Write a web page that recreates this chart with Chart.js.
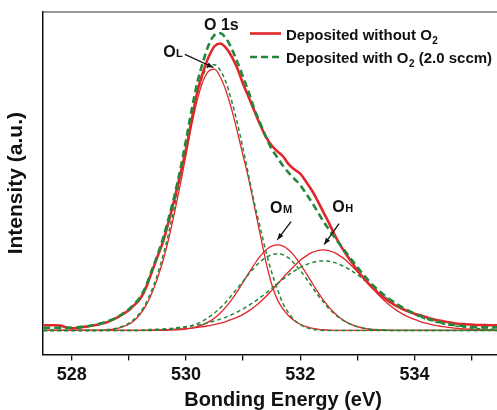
<!DOCTYPE html>
<html>
<head>
<meta charset="utf-8">
<title>O 1s XPS</title>
<script src="https://cdn.jsdelivr.net/npm/chart.js@4.4.0/dist/chart.umd.min.js"></script>
<style>
    html, body { margin: 0; padding: 0; background: #fff; overflow: hidden; }
    #wrap { width: 530px; height: 410px; }
</style>
</head>
<body>
<div id="wrap"><canvas id="xpsChart" width="530" height="410"></canvas></div>
<script>
// Binding energy grid (eV)
const energy = [
    527.5, 527.6, 527.7, 527.8, 527.9, 528.0, 528.1, 528.2, 528.3, 528.4,
    528.5, 528.6, 528.7, 528.8, 528.9, 529.0, 529.1, 529.2, 529.3, 529.4,
    529.5, 529.6, 529.7, 529.8, 529.9, 530.0, 530.1, 530.2, 530.3, 530.4,
    530.5, 530.6, 530.7, 530.8, 530.9, 531.0, 531.1, 531.2, 531.3, 531.4,
    531.5, 531.6, 531.7, 531.8, 531.9, 532.0, 532.1, 532.2, 532.3, 532.4,
    532.5, 532.6, 532.7, 532.8, 532.9, 533.0, 533.1, 533.2, 533.3, 533.4,
    533.5, 533.6, 533.7, 533.8, 533.9, 534.0, 534.1, 534.2, 534.3, 534.4,
    534.5, 534.6, 534.7, 534.8, 534.9, 535.0, 535.1, 535.2, 535.3, 535.4,
    535.5
];

// Measured O 1s envelope, film deposited without O2
const redTotal = [
    1.5, 1.5, 1.5, 1.4, 0.9, 0.6, 0.7, 1.0, 1.2, 1.5,
    1.9, 2.3, 3.0, 3.8, 4.8, 5.9, 7.5, 9.3, 12.5, 17.0,
    21.5, 26.0, 32.0, 38.5, 45.5, 53.0, 61.5, 69.8, 75.5, 80.0,
    83.0, 83.8, 82.5, 80.0, 76.5, 72.0, 68.0, 64.0, 60.0, 56.5,
    54.0, 52.3, 50.8, 48.5, 47.0, 45.8, 43.5, 41.0, 38.0, 34.7,
    31.5, 28.0, 25.0, 22.3, 20.0, 17.5, 15.5, 13.6, 11.9, 10.4,
    9.1, 8.0, 7.0, 6.2, 5.5, 4.9, 4.4, 3.9, 3.4, 3.0,
    2.7, 2.4, 2.1, 1.9, 1.8, 1.7, 1.6, 1.6, 1.5, 1.5,
    1.5
];
// Measured O 1s envelope, film deposited with O2 (2.0 sccm)
const greenTotal = [
    0.8, 0.8, 0.8, 0.8, 0.8, 0.8, 0.9, 1.1, 1.3, 1.6,
    2.0, 2.5, 3.1, 3.9, 5.0, 6.2, 7.8, 9.8, 13.0, 17.5,
    22.0, 27.0, 33.0, 39.5, 47.0, 55.5, 64.5, 72.5, 78.5, 83.5,
    86.3, 86.8, 85.3, 82.3, 78.3, 74.0, 69.5, 64.5, 60.5, 56.5,
    53.0, 50.5, 48.0, 46.0, 44.2, 42.5, 40.0, 37.5, 34.8, 32.0,
    29.5, 27.2, 25.0, 22.8, 20.6, 18.5, 16.4, 14.5, 12.8, 11.3,
    9.9, 8.7, 7.6, 6.6, 5.7, 4.9, 4.2, 3.6, 3.1, 2.6,
    2.2, 1.9, 1.6, 1.4, 1.2, 1.0, 0.9, 0.9, 0.9, 0.9,
    0.9
];

// Fitted components, without O2
const redOL = [
    0, 0, 0, 0, 0, 0, 0, 0, 0, 0,
    0, 0.15, 0.3, 0.6, 1.1, 1.8, 3.0, 4.8, 7.3, 10.8,
    15.2, 20.5, 27.0, 34.5, 42.6, 51.2, 60.0, 67.4, 72.9, 75.8,
    76.3, 74.0, 70.0, 64.5, 58.0, 51.0, 44.0, 36.0, 28.0, 20.0,
    13.5, 9.0, 6.2, 4.2, 2.8, 1.8, 1.1, 0.7, 0.4, 0.2,
    0.1, 0, 0, 0, 0, 0, 0, 0, 0, 0,
    0, 0, 0, 0, 0, 0, 0, 0, 0, 0,
    0, 0, 0, 0, 0, 0, 0, 0, 0, 0,
    0
];
const redOM = [
    0, 0, 0, 0, 0, 0, 0, 0, 0, 0,
    0, 0, 0, 0, 0, 0, 0, 0, 0, 0,
    0, 0, 0.1, 0.15, 0.25, 0.4, 0.7, 1.1, 1.7, 2.5,
    3.6, 5.1, 6.9, 9.0, 11.4, 14.1, 16.8, 19.4, 21.7, 23.5,
    24.6, 25.0, 24.6, 23.5, 21.7, 19.4, 16.8, 14.1, 11.4, 9.0,
    6.9, 5.1, 3.6, 2.5, 1.7, 1.1, 0.7, 0.4, 0.25, 0.15,
    0.1, 0, 0, 0, 0, 0, 0, 0, 0, 0,
    0, 0, 0, 0, 0, 0, 0, 0, 0, 0,
    0
];
const redOH = [
    0, 0, 0, 0, 0, 0, 0, 0, 0, 0,
    0, 0, 0, 0, 0, 0, 0, 0, 0, 0.1,
    0.15, 0.2, 0.25, 0.35, 0.45, 0.55, 0.7, 0.9, 1.1, 1.4,
    1.7, 2.1, 2.6, 3.2, 3.9, 4.7, 5.7, 6.9, 8.3, 9.9,
    11.7, 13.5, 15.4, 17.2, 18.9, 20.5, 21.7, 22.7, 23.3, 23.5,
    23.3, 22.7, 21.7, 20.5, 18.9, 17.2, 15.4, 13.5, 11.7, 9.9,
    8.3, 6.9, 5.7, 4.7, 3.9, 3.2, 2.6, 2.1, 1.7, 1.4,
    1.1, 0.9, 0.7, 0.55, 0.45, 0.35, 0.25, 0.2, 0.15, 0.1,
    0.05
];

// Fitted components, with O2
const greenOL = [
    0, 0, 0, 0, 0, 0, 0, 0, 0, 0,
    0, 0.2, 0.4, 0.7, 1.3, 2.1, 3.4, 5.3, 8.0, 11.7,
    16.3, 22.0, 28.7, 36.4, 44.6, 53.2, 61.8, 69.2, 74.6, 77.3,
    77.6, 76.0, 72.5, 67.0, 60.5, 53.0, 45.0, 37.0, 30.0, 23.0,
    17.0, 12.0, 7.8, 5.0, 3.0, 1.7, 0.9, 0.4, 0.15, 0,
    0, 0, 0, 0, 0, 0, 0, 0, 0, 0,
    0, 0, 0, 0, 0, 0, 0, 0, 0, 0,
    0, 0, 0, 0, 0, 0, 0, 0, 0, 0,
    0
];
const greenOM = [
    0, 0, 0, 0, 0, 0, 0, 0, 0, 0,
    0, 0, 0, 0, 0, 0, 0, 0, 0, 0,
    0.1, 0.2, 0.3, 0.4, 0.65, 1.0, 1.4, 2.0, 2.8, 3.9,
    5.1, 6.6, 8.3, 10.3, 12.3, 14.4, 16.5, 18.4, 20.1, 21.3,
    22.1, 22.4, 22.1, 21.1, 19.5, 17.5, 15.3, 12.9, 10.5, 8.4,
    6.4, 4.8, 3.5, 2.4, 1.7, 1.1, 0.7, 0.45, 0.3, 0.2,
    0.1, 0, 0, 0, 0, 0, 0, 0, 0, 0,
    0, 0, 0, 0, 0, 0, 0, 0, 0, 0,
    0
];
const greenOH = [
    0, 0, 0, 0, 0, 0, 0, 0, 0, 0,
    0, 0, 0, 0, 0, 0, 0, 0, 0.2, 0.3,
    0.35, 0.45, 0.55, 0.7, 0.9, 1.1, 1.3, 1.6, 1.9, 2.3,
    2.8, 3.3, 3.9, 4.6, 5.4, 6.3, 7.3, 8.4, 9.6, 10.9,
    12.3, 13.7, 15.0, 16.3, 17.4, 18.4, 19.2, 19.8, 20.2, 20.3,
    20.2, 19.8, 19.2, 18.4, 17.4, 16.3, 15.0, 13.7, 12.3, 10.9,
    9.6, 8.4, 7.3, 6.3, 5.4, 4.6, 3.9, 3.3, 2.8, 2.3,
    1.9, 1.6, 1.3, 1.1, 0.9, 0.7, 0.55, 0.45, 0.35, 0.3,
    0.2
];

const RED = '#e3262b';
const GREEN = '#23883a';
const FONT = '"Liberation Sans", Arial, Helvetica, sans-serif';

Chart.defaults.font.family = FONT;
Chart.defaults.color = '#111';

// Turn a value list into {x, y} points on the energy grid
function toPoints(values) {
    return energy.map((e, i) => ({ x: e, y: values[i] }));
}

function line(values, color, width, dash) {
    return {
        data: toPoints(values),
        borderColor: color,
        borderWidth: width,
        borderDash: dash,
        pointRadius: 0,
        fill: false,
        cubicInterpolationMode: 'monotone'
    };
}

// Text with a smaller capital letter after it (O_L, O_M, O_H)
function drawSubLabel(ctx, x, y, main, sub) {
    ctx.font = 'bold 16px ' + FONT;
    ctx.fillText(main, x, y);
    const w = ctx.measureText(main).width;
    ctx.font = 'bold 11px ' + FONT;
    ctx.fillText(sub, x + w + 0.5, y);
}

function drawArrow(ctx, x1, y1, x2, y2) {
    ctx.beginPath();
    ctx.moveTo(x1, y1);
    ctx.lineTo(x2, y2);
    ctx.stroke();
    const ang = Math.atan2(y2 - y1, x2 - x1);
    const len = 7;
    ctx.beginPath();
    ctx.moveTo(x2, y2);
    ctx.lineTo(x2 - len * Math.cos(ang - 0.38), y2 - len * Math.sin(ang - 0.38));
    ctx.lineTo(x2 - len * Math.cos(ang + 0.38), y2 - len * Math.sin(ang + 0.38));
    ctx.closePath();
    ctx.fill();
}

// Peak labels and arrows, placed in data coordinates (eV, intensity)
const peakLabels = [
    { text: 'O', sub: 'L', at: [529.6, 79.8], arrow: [[529.98, 80.6], [530.48, 76.8]] },
    { text: 'O', sub: 'M', at: [531.47, 34.2], arrow: [[531.84, 31.8], [531.6, 26.5]] },
    { text: 'O', sub: 'H', at: [532.56, 34.5], arrow: [[532.68, 31.2], [532.42, 25.1]] }
];

// Frame, legend and peak annotations
const decorations = {
    id: 'decorations',
    afterDraw(chart) {
        const { ctx, chartArea: a, scales: { x, y } } = chart;
        ctx.save();

        // top and right edges of the frame
        ctx.strokeStyle = '#333';
        ctx.lineWidth = 1.2;
        ctx.beginPath();
        ctx.moveTo(a.left, a.top);
        ctx.lineTo(a.right, a.top);
        ctx.lineTo(a.right, a.bottom);
        ctx.stroke();

        ctx.fillStyle = '#111';
        ctx.strokeStyle = '#111';
        ctx.lineWidth = 1.3;
        ctx.textBaseline = 'alphabetic';

        // O 1s title over the main peak
        ctx.font = 'bold 16px ' + FONT;
        ctx.textAlign = 'center';
        ctx.fillText('O 1s', x.getPixelForValue(530.62), y.getPixelForValue(87.7));
        ctx.textAlign = 'left';

        peakLabels.forEach(p => {
            drawSubLabel(ctx, x.getPixelForValue(p.at[0]), y.getPixelForValue(p.at[1]), p.text, p.sub);
            const [s, e] = p.arrow;
            drawArrow(ctx, x.getPixelForValue(s[0]), y.getPixelForValue(s[1]),
                x.getPixelForValue(e[0]), y.getPixelForValue(e[1]));
        });

        // legend
        const rows = [
            { color: RED, width: 2.6, dash: [], y: 33.5, parts: ['Deposited without O', '2', ''] },
            { color: GREEN, width: 2.6, dash: [7, 4], y: 57, parts: ['Deposited with O', '2', ' (2.0 sccm)'] }
        ];
        rows.forEach(r => {
            ctx.strokeStyle = r.color;
            ctx.lineWidth = r.width;
            ctx.setLineDash(r.dash);
            ctx.beginPath();
            ctx.moveTo(250, r.y);
            ctx.lineTo(281, r.y);
            ctx.stroke();
            ctx.setLineDash([]);

            let tx = 286;
            const base = r.y + 6;
            ctx.font = 'bold 15px ' + FONT;
            ctx.fillText(r.parts[0], tx, base);
            tx += ctx.measureText(r.parts[0]).width;
            ctx.font = 'bold 10px ' + FONT;
            ctx.fillText(r.parts[1], tx + 0.5, base + 4);
            tx += ctx.measureText(r.parts[1]).width + 0.5;
            ctx.font = 'bold 15px ' + FONT;
            ctx.fillText(r.parts[2], tx, base);
        });

        ctx.restore();
    }
};

const ctx = document.getElementById('xpsChart').getContext('2d');
const xpsChart = new Chart(ctx, {
    type: 'line',
    data: {
        datasets: [
            line(greenTotal, GREEN, 2.6, [7, 4]),
            line(redTotal, RED, 2.6, []),
            line(greenOL, GREEN, 1.5, [4, 3]),
            line(greenOM, GREEN, 1.5, [4, 3]),
            line(greenOH, GREEN, 1.5, [4, 3]),
            line(redOL, RED, 1.3, []),
            line(redOM, RED, 1.3, []),
            line(redOH, RED, 1.3, [])
        ]
    },
    options: {
        responsive: false,
        animation: false,
        devicePixelRatio: 1,
        layout: { padding: { left: 0, right: 7, top: 12, bottom: 0 } },
        plugins: {
            legend: { display: false },
            tooltip: { enabled: false }
        },
        scales: {
            x: {
                type: 'linear',
                min: 527.5,
                max: 535.9,
                ticks: {
                    stepSize: 1,
                    includeBounds: false,
                    autoSkip: false,
                    maxRotation: 0,
                    padding: 4,
                    color: '#111',
                    font: { size: 18, weight: 'bold' },
                    callback: v => (Math.round(v) % 2 === 0 ? String(Math.round(v)) : '')
                },
                grid: {
                    drawOnChartArea: false,
                    drawTicks: true,
                    tickLength: 6,
                    color: '#111',
                    lineWidth: 1.3
                },
                border: { color: '#111', width: 1.5 },
                title: {
                    display: true,
                    text: 'Bonding Energy (eV)',
                    color: '#111',
                    font: { size: 20, weight: 'bold', lineHeight: 1.0 },
                    padding: { top: 0, bottom: 0 }
                }
            },
            y: {
                min: -7,
                max: 93,
                ticks: { display: false },
                grid: { display: false, drawTicks: false },
                border: { color: '#111', width: 1.5 },
                title: {
                    display: true,
                    text: 'Intensity (a.u.)',
                    color: '#111',
                    font: { size: 21, weight: 'bold' },
                    padding: { top: 4, bottom: 14 }
                }
            }
        }
    },
    plugins: [decorations]
});
</script>
</body>
</html>
